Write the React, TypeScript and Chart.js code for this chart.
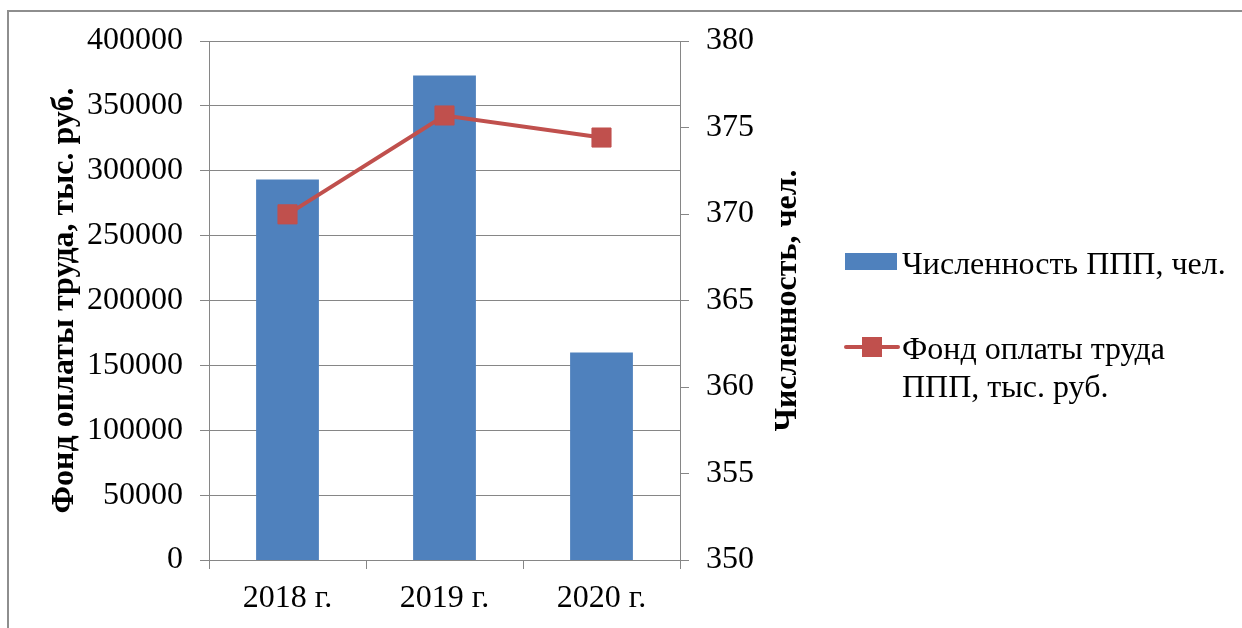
import React, { useEffect, useRef } from "react";
import { Chart, registerables } from "chart.js";

Chart.register(...registerables);

const categories = ["2018 г.", "2019 г.", "2020 г."];
const headcount = [372, 378, 362];
const payroll = [266400, 342600, 325600];
const headcountLabel = "Численность ППП, чел.";
const payrollLabel = ["Фонд оплаты труда", "ППП, тыс. руб."];
const leftTitle = "Фонд оплаты труда, тыс. руб.";
const rightTitle = "Численность, чел.";

const BLUE = "#4F81BD";
const RED = "#C0504D";
const GRID = "#868686";
const FONT = "'Liberation Serif', 'Times New Roman', serif";

const decorPlugin = {
  id: "decor",
  beforeDraw(chart: any) {
    const ctx = chart.ctx;
    ctx.save();
    ctx.strokeStyle = "#8e8e8e";
    ctx.lineWidth = 2;
    ctx.beginPath();
    ctx.moveTo(7, 11);
    ctx.lineTo(1242, 11);
    ctx.moveTo(8, 10);
    ctx.lineTo(8, 628);
    ctx.stroke();
    ctx.restore();
  },
  afterDraw(chart: any) {
    const ctx = chart.ctx;
    const area = chart.chartArea;
    const midY = (area.top + area.bottom) / 2;
    ctx.save();
    ctx.fillStyle = "#000";
    ctx.font = `bold 32px ${FONT}`;
    ctx.textAlign = "center";
    ctx.textBaseline = "alphabetic";
    // left title
    ctx.save();
    ctx.translate(73, midY);
    ctx.rotate(-Math.PI / 2);
    ctx.fillText(leftTitle, 0, 0);
    ctx.restore();
    // right title
    ctx.save();
    ctx.translate(796, midY);
    ctx.rotate(-Math.PI / 2);
    ctx.fillText(rightTitle, 0, 0);
    ctx.restore();

    // legend
    ctx.font = `32px ${FONT}`;
    ctx.textAlign = "left";
    ctx.fillStyle = BLUE;
    ctx.fillRect(845, 253, 52, 17);
    ctx.fillStyle = "#000";
    ctx.fillText(headcountLabel, 902, 274);

    ctx.strokeStyle = RED;
    ctx.lineWidth = 4;
    ctx.lineCap = "round";
    ctx.beginPath();
    ctx.moveTo(846, 347);
    ctx.lineTo(898, 347);
    ctx.stroke();
    ctx.fillStyle = RED;
    ctx.fillRect(862, 337, 20, 20);
    ctx.fillStyle = "#000";
    ctx.fillText(payrollLabel[0], 902, 359);
    ctx.fillText(payrollLabel[1], 902, 397);
    ctx.restore();
  },
};

export default function App() {
  const ref = useRef<HTMLCanvasElement>(null);

  useEffect(() => {
    if (!ref.current) return;
    const tickFont = { family: FONT, size: 32 };
    const chart = new Chart(ref.current, {
      type: "bar",
      data: {
        labels: categories,
        datasets: [
          {
            type: "line",
            label: payrollLabel.join(" "),
            data: payroll,
            yAxisID: "y",
            borderColor: RED,
            backgroundColor: RED,
            borderWidth: 4,
            pointStyle: "rect",
            pointRadius: 13.5,
            pointBorderWidth: 1,
            pointBackgroundColor: RED,
            pointBorderColor: RED,
            tension: 0,
            order: 0,
          } as any,
          {
            type: "bar",
            label: headcountLabel,
            data: headcount,
            yAxisID: "y1",
            backgroundColor: BLUE,
            barPercentage: 0.4,
            categoryPercentage: 1.0,
            order: 1,
          } as any,
        ],
      },
      options: {
        animation: false,
        responsive: true,
        maintainAspectRatio: false,
        layout: { padding: { top: 41, left: 0, right: 0, bottom: 0 } },
        plugins: {
          legend: { display: false },
          tooltip: { enabled: false },
        },
        scales: {
          x: {
            offset: true,
            grid: {
              offset: true,
              drawOnChartArea: false,
              drawTicks: true,
              tickLength: 9,
              color: GRID,
            },
            border: { display: true, color: GRID },
            ticks: { font: tickFont, color: "#000", padding: 10, maxRotation: 0 },
            afterFit: (scale: any) => {
              scale.height = 68;
            },
          },
          y: {
            position: "left",
            min: 0,
            max: 400000,
            ticks: {
              stepSize: 50000,
              font: tickFont,
              color: "#000",
              padding: 17,
              callback: (v: any) => String(v),
            },
            grid: { color: GRID, tickLength: 9, drawTicks: true },
            border: { display: true, color: GRID },
            afterFit: (scale: any) => {
              scale.width = 209;
            },
          },
          y1: {
            position: "right",
            min: 350,
            max: 380,
            ticks: { stepSize: 5, font: tickFont, color: "#000", padding: 17 },
            grid: { drawOnChartArea: false, color: GRID, tickLength: 9, drawTicks: true },
            border: { display: true, color: GRID },
            afterFit: (scale: any) => {
              scale.width = 562;
            },
          },
        },
      },
      plugins: [decorPlugin],
    });
    return () => chart.destroy();
  }, []);

  return (
    <div style={{ position: "absolute", left: 0, top: 0, width: 1242, height: 628, background: "#fff" }}>
      <canvas ref={ref} />
    </div>
  );
}
